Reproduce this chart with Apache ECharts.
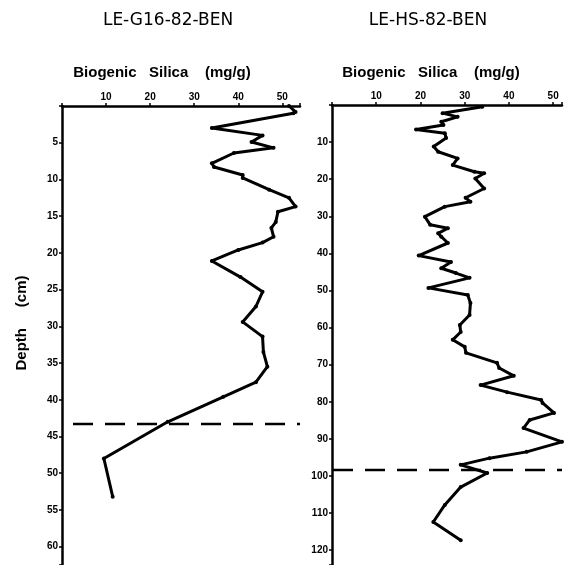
<!DOCTYPE html>
<html>
<head>
<meta charset="utf-8">
<script src="https://cdn.jsdelivr.net/npm/echarts@6/dist/echarts.min.js"></script>
<style>
  html, body { margin: 0; padding: 0; background: #fff; }
  #chart { width: 565px; height: 565px; }
</style>
</head>
<body>
<div id="chart"></div>
<script>
// core LE-G16-82-BEN
const g16Depth = [0, 0.8, 1, 3, 4, 4.9, 5.7, 6.4, 7.8, 8.3, 9.4, 9.8, 11.4, 12.5, 13.7, 14.4, 15.8, 16.6,
  17.8, 18.6, 19.6, 21.1, 23.3, 25.3, 27.3, 29.4, 31.4, 33.5, 35.5, 37.6, 39.6, 43, 48, 53.2];
const g16Silica = [51.5, 53, 52.5, 34, 45.5, 43, 48, 39, 34, 34.5, 41, 41, 47, 51.5, 53, 49, 48.5, 47.5,
  48, 45.5, 40, 34, 40.5, 45.5, 44, 41, 45.5, 45.7, 46.6, 44, 36.6, 24, 9.5, 11.5];
const g16Dash = 43.3;

// core LE-HS-82-BEN
const hsDepth = [0.5, 2.2, 3.2, 4.5, 5.4, 6.6, 7.6, 8.9, 11.2, 12.6, 14.4, 16.2, 18, 18.4, 19.8, 22.5, 25,
  26.1, 27.4, 30.1, 32.3, 33.2, 34.6, 35.5, 37.2, 40.6, 42.3, 44, 45.3, 46.6, 49.3, 51.2, 53.4, 56.6, 59.3,
  61.2, 63.3, 65.2, 66.8, 69.5, 70.9, 73, 75.5, 77.4, 79.5, 80.3, 83, 84.9, 87.1, 90.8, 93.5, 95.2, 97,
  99.2, 103, 107.8, 112.4, 117.3];
const hsSilica = [34, 25, 28.4, 24.7, 25.2, 19, 25.5, 25.8, 23, 24, 28.4, 27.3, 32.2, 34.4, 32.4, 34.4, 30.2,
  31.3, 25.5, 21, 22.2, 26.2, 24, 24.7, 26.2, 19.6, 26.9, 24.7, 28, 31.1, 21.8, 30.7, 31.3, 31.1, 28.9,
  29.1, 27.3, 30, 30.3, 37.3, 37.8, 41.1, 33.6, 39.6, 47.3, 47.6, 50.2, 44.7, 43.3, 52, 44, 35.6, 29.1,
  35.1, 29.1, 25.5, 22.9, 29.1];
const hsDash = 98.4;

const silicaTicks = [10, 20, 30, 40, 50];
const g16DepthTicks = [5, 10, 15, 20, 25, 30, 35, 40, 45, 50, 55, 60];
const hsDepthTicks = [10, 20, 30, 40, 50, 60, 70, 80, 90, 100, 110, 120];

const chart = echarts.init(document.getElementById('chart'));
const labelFont = 'Liberation Sans';
const axisLine = { show: true, lineStyle: { color: '#000', width: 2.5 } };

function tickLabel(ticks) {
  return {
    color: '#000', fontSize: 10, fontWeight: 'bold', fontFamily: labelFont, margin: 4,
    formatter: v => ticks.includes(v) ? String(v) : ''
  };
}

function xAxis(gi, max) {
  return {
    gridIndex: gi, type: 'value', position: 'top', min: 0, max: max, interval: 10,
    axisLine: axisLine, axisTick: { show: true, length: 3, lineStyle: { color: '#000', width: 1.5 } },
    axisLabel: tickLabel(silicaTicks), splitLine: { show: false }
  };
}

function yAxis(gi, max, step, ticks) {
  return {
    gridIndex: gi, type: 'value', inverse: true, min: 0, max: max, interval: step,
    axisLine: axisLine, axisTick: { show: true, length: 3, lineStyle: { color: '#000', width: 1.5 } },
    axisLabel: tickLabel(ticks), splitLine: { show: false }
  };
}

function core(gi, depth, silica) {
  return {
    type: 'line', xAxisIndex: gi, yAxisIndex: gi,
    data: depth.map((d, i) => [silica[i], d]),
    symbol: 'circle', symbolSize: 4, clip: false,
    itemStyle: { color: '#000' },
    lineStyle: { color: '#000', width: 3 }
  };
}

// dashed boundary line, drawn as a two-point line series
function boundary(gi, dash, from, to) {
  return {
    type: 'line', xAxisIndex: gi, yAxisIndex: gi, silent: true,
    data: [[from, dash], [to, dash]],
    symbol: 'none', clip: false,
    lineStyle: { color: '#000', width: 2.5, type: [20, 12] }
  };
}

const titleFont = '17px "DejaVu Sans"';
const nameFont = 'bold 15px "Liberation Sans"';

chart.setOption({
  animation: false,
  backgroundColor: '#fff',
  grid: [
    { left: 62, top: 106, width: 238, height: 459 },
    { left: 332, top: 105, width: 234, height: 460 }
  ],
  xAxis: [xAxis(0, 54), xAxis(1, 52)],
  yAxis: [yAxis(0, 62.5, 5, g16DepthTicks), yAxis(1, 124, 10, hsDepthTicks)],
  series: [
    core(0, g16Depth, g16Silica),
    boundary(0, g16Dash, 2.5, 54),
    core(1, hsDepth, hsSilica),
    boundary(1, hsDash, -7, 52)
  ],
  graphic: [
    { type: 'text', x: 168, y: 21, style: { text: 'LE-G16-82-BEN', font: titleFont, fill: '#000', textAlign: 'center', textVerticalAlign: 'middle' } },
    { type: 'text', x: 428, y: 21, style: { text: 'LE-HS-82-BEN', font: titleFont, fill: '#000', textAlign: 'center', textVerticalAlign: 'middle' } },
    { type: 'text', x: 162, y: 73, style: { text: 'Biogenic   Silica    (mg/g)', font: nameFont, fill: '#000', textAlign: 'center', textVerticalAlign: 'middle' } },
    { type: 'text', x: 431, y: 73, style: { text: 'Biogenic   Silica    (mg/g)', font: nameFont, fill: '#000', textAlign: 'center', textVerticalAlign: 'middle' } },
    { type: 'text', x: 22, y: 323, rotation: Math.PI / 2, style: { text: 'Depth     (cm)', font: nameFont, fill: '#000', textAlign: 'center', textVerticalAlign: 'middle' } }
  ]
});
</script>
</body>
</html>
